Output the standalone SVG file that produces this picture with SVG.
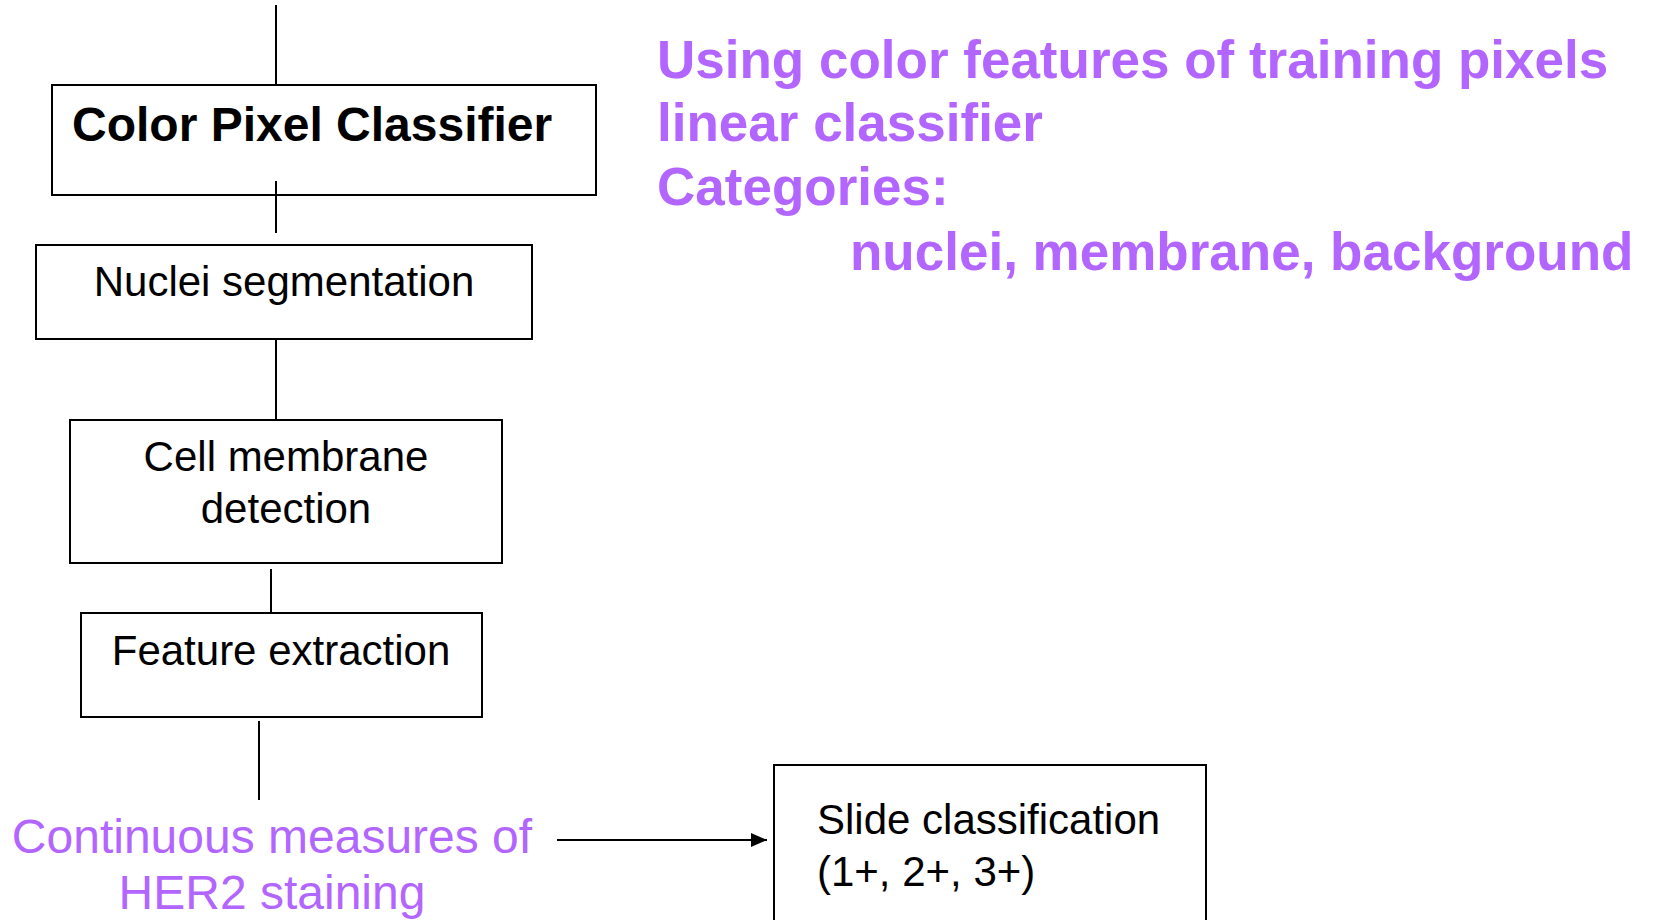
<svg xmlns="http://www.w3.org/2000/svg" width="1653" height="920" viewBox="0 0 1653 920">
  <defs>
    <style>
      .box { fill: #ffffff; stroke: #000000; stroke-width: 2; }
      .edge { fill: none; stroke: #000000; stroke-width: 2; }
      .t { font-family: "Liberation Sans", Arial, sans-serif; fill: #000000; }
      .p { font-family: "Liberation Sans", Arial, sans-serif; fill: #b266ff; }
      .pb { font-family: "Liberation Sans", Arial, sans-serif; fill: #b266ff; font-weight: bold; font-size: 53px; }
    </style>
    <marker id="arrow" markerWidth="16" markerHeight="14" refX="16" refY="7" orient="auto" markerUnits="userSpaceOnUse">
      <path d="M0,0 L16,7 L0,14 Z" fill="#000000"/>
    </marker>
  </defs>
  <rect width="1653" height="920" fill="#ffffff"/>

  <g id="node-color-pixel-classifier">
    <rect class="box" x="52" y="85" width="544" height="110"/>
    <text class="t" x="72" y="141" font-size="48" font-weight="bold">Color Pixel Classifier</text>
  </g>

  <g id="node-nuclei-segmentation">
    <rect class="box" x="36" y="245" width="496" height="94"/>
    <text class="t" x="284" y="296" font-size="42" text-anchor="middle">Nuclei segmentation</text>
  </g>

  <g id="node-cell-membrane-detection">
    <rect class="box" x="70" y="420" width="432" height="143"/>
    <text class="t" x="286" y="471" font-size="42" text-anchor="middle">Cell membrane</text>
    <text class="t" x="286" y="523" font-size="42" text-anchor="middle">detection</text>
  </g>

  <g id="node-feature-extraction">
    <rect class="box" x="81" y="613" width="401" height="104"/>
    <text class="t" x="281" y="665" font-size="42" text-anchor="middle">Feature extraction</text>
  </g>

  <g id="node-continuous-measures">
    <text class="p" x="272" y="853" font-size="48" text-anchor="middle">Continuous measures of</text>
    <text class="p" x="272" y="909" font-size="48" text-anchor="middle">HER2 staining</text>
  </g>

  <g id="node-slide-classification">
    <rect class="box" x="774" y="765" width="432" height="170"/>
    <text class="t" x="817" y="834" font-size="42">Slide classification</text>
    <text class="t" x="817" y="886" font-size="42">(1+, 2+, 3+)</text>
  </g>

  <g id="node-notes">
    <text class="pb" x="657" y="78">Using color features of training pixels</text>
    <text class="pb" x="657" y="141">linear classifier</text>
    <text class="pb" x="657" y="205">Categories:</text>
    <text class="pb" x="850" y="270">nuclei, membrane, background</text>
  </g>

  <g id="connectors">
    <line class="edge" x1="276" y1="5" x2="276" y2="85"/>
    <line class="edge" x1="276" y1="181" x2="276" y2="233"/>
    <line class="edge" x1="276" y1="339" x2="276" y2="420"/>
    <line class="edge" x1="271" y1="569" x2="271" y2="612"/>
    <line class="edge" x1="259" y1="721" x2="259" y2="800"/>
    <line class="edge" x1="557" y1="840" x2="767" y2="840" marker-end="url(#arrow)"/>
  </g>
</svg>
